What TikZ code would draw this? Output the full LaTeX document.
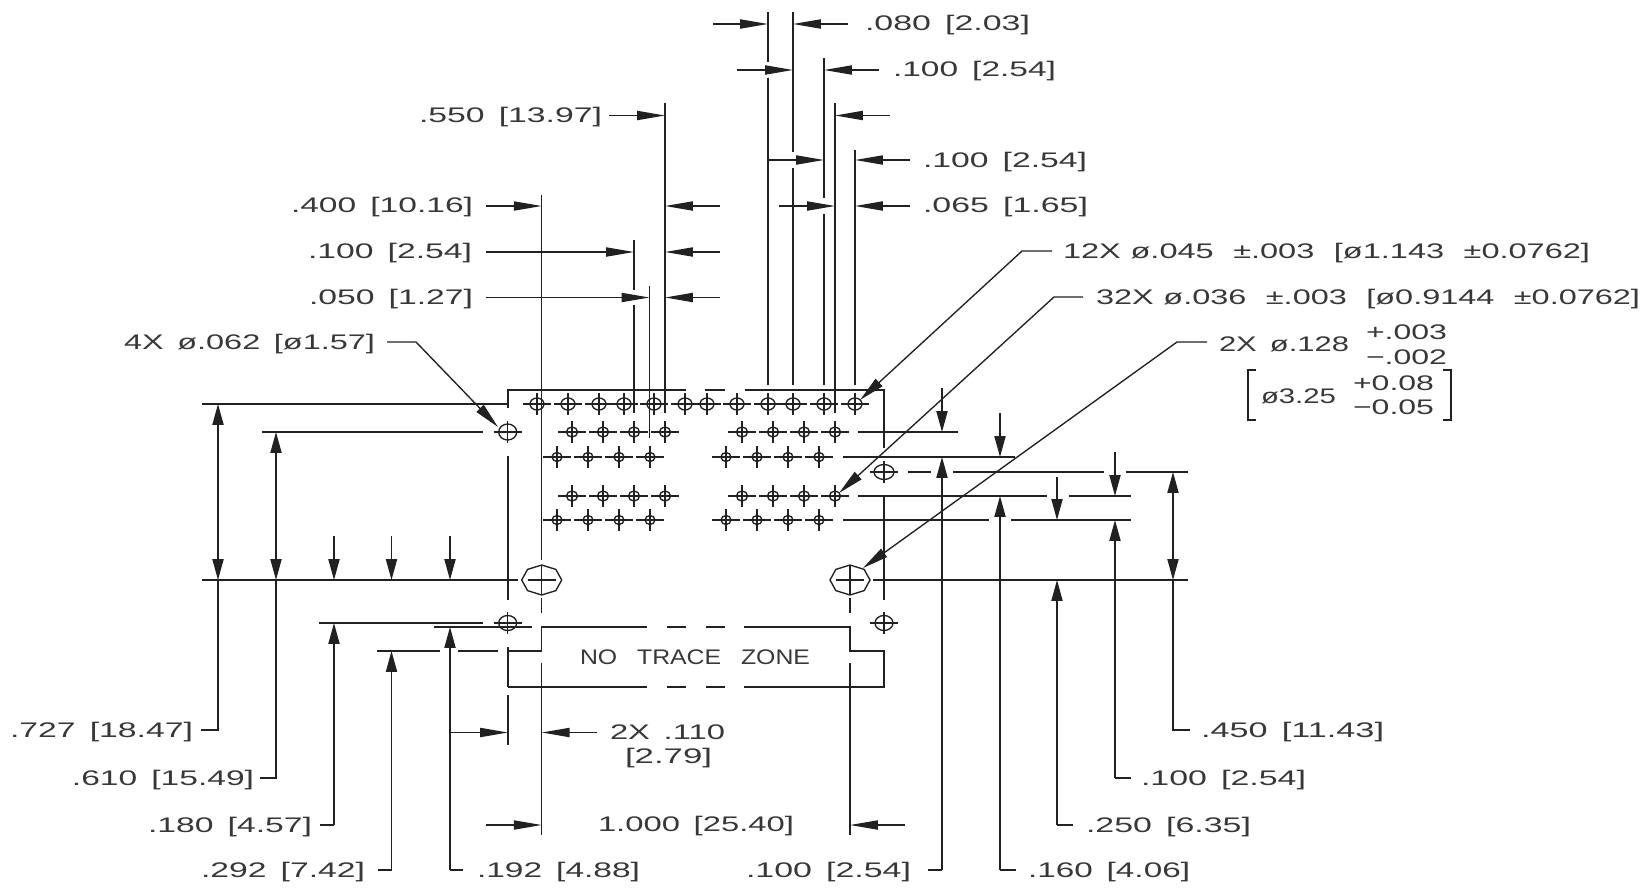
\documentclass[tikz,border=0pt]{standalone}
\usepackage{fontspec}
\usepackage{graphicx}
\setmainfont{Liberation Sans}
\usetikzlibrary{arrows.meta}
\definecolor{ink}{gray}{0.13}
\newcounter{labc}
\newcommand{\gp}{\hspace{.42em}}
\newcommand{\gs}{\hspace{.3em}}
\newcommand{\gw}{\hspace{.6em}}
\newcommand{\gt}{\hspace{.8em}}
\newcommand{\fitbox}[2]{\sbox0{#2}\pgfmathsetmacro\sfx{#1*0.501875/\the\wd0}\scalebox{\sfx}[1]{\usebox0}}
\newcommand{\lbl}[4]{\stepcounter{labc}\pgfmathsetmacro\wdt{#2-#1}\node[txt] (lab\thelabc) at (#1,#3+7.5) {\fitbox{\wdt}{#4}};}
\newcommand{\smallhole}[4]{%
  \draw[geo] (#1,#2) ellipse [x radius=#3,y radius=#4];
  \draw[geo] (#1-14,#2) -- (#1+14,#2) (#1,#2-11) -- (#1,#2+11);}
\newcommand{\bighole}[2]{%
  \draw[geo] plot[samples=9,domain=0:360] ({#1+20*cos(\x)},{#2+15*sin(\x)}) -- cycle;
  \draw[geo] (#1-14,#2) -- (#1+14,#2) (#1,#2-14) -- (#1,#2+14);}
\tikzset{
  geo/.style={draw=ink,line width=0.68pt},
  ha/.style={geo,-{Triangle[length=14pt,width=4.6pt]}},
  va/.style={geo,-{Triangle[length=10.5pt,width=5.6pt]}},
  vv/.style={geo,{Triangle[length=10.5pt,width=5.6pt]}-{Triangle[length=10.5pt,width=5.6pt]}},
  la/.style={geo,-{Triangle[length=13pt,width=5pt]}},
  txt/.style={anchor=base west,inner sep=0pt,outer sep=0pt,text=black!78,font=\fontsize{10.6}{12}\selectfont}
}
\begin{document}
\begin{tikzpicture}[x=0.5bp,y=-0.5bp]
\useasboundingbox (0,0) rectangle (1641,889);
% ---- holes
\foreach \h in {537,568,599,624,654,685,707,737,768,793,824,855} {\smallhole{\h}{404}{7}{6}}
\foreach \h in {572,603,634,665,742,773,804,835} {\smallhole{\h}{432}{5.5}{5}\smallhole{\h}{496}{5.5}{5}}
\foreach \h in {557,588,619,650,726,757,788,819} {\smallhole{\h}{457}{5}{4.5}\smallhole{\h}{520}{5}{4.5}}
\smallhole{507.7}{432}{9}{8}
\smallhole{884}{472}{10}{7.5}
\smallhole{507.7}{623}{9}{7.5}
\smallhole{884}{623}{9}{7.5}
\bighole{541.7}{580}
\bighole{850}{580}
% ---- outline at the top
\draw[geo] (508,408) -- (508,390) -- (686,390);
\draw[geo] (705,390) -- (725,390);
\draw[geo] (745,390) -- (884,390) -- (884,448);
% ---- left verticals
\draw[geo] (508,456) -- (508,600);
\draw[geo] (508,647) -- (508,687);
\draw[geo] (508,695) -- (508,745);
\draw[geo] (541.7,195) -- (541.7,560);
\draw[geo] (541.7,598) -- (541.7,613);
\draw[geo] (541.7,663) -- (541.7,835);
% ---- right verticals
\draw[geo] (884,495) -- (884,600);
\draw[geo] (850,598) -- (850,613);
\draw[geo] (850,663) -- (850,835);
% ---- no trace zone
\draw[geo] (508,651) -- (541.7,651) -- (541.7,627) -- (647,627);
\draw[geo] (667,627) -- (686,627);
\draw[geo] (706,627) -- (725,627);
\draw[geo] (744,627) -- (850,627) -- (850,651) -- (884,651) -- (884,687) -- (744,687);
\draw[geo] (725,687) -- (706,687);
\draw[geo] (686,687) -- (667,687);
\draw[geo] (647,687) -- (508,687);
\lbl{580}{810}{657}{NO\gt TRACE\gt ZONE}
% ---- top extension lines
\draw[geo] (768,12) -- (768,62);
\draw[geo] (768,78) -- (768,385);
\draw[geo] (793,12) -- (793,152);
\draw[geo] (793,168) -- (793,385);
\draw[geo] (824,58) -- (824,198);
\draw[geo] (824,214) -- (824,385);
\draw[geo] (835,103) -- (835,413);
\draw[geo] (855,150) -- (855,385);
\draw[geo] (665,103) -- (665,413);
\draw[geo] (634,240) -- (634,290);
\draw[geo] (634,305) -- (634,413);
\draw[geo] (649.5,286) -- (649.5,438);
% ---- top dimensions
\draw[ha] (713,24) -- (768,24);
\draw[ha] (848,24) -- (793,24);
\lbl{865}{1030}{23}{.080\gp[2.03]}
\draw[ha] (737,70) -- (793,70);
\draw[ha] (879,70) -- (824,70);
\lbl{893}{1056}{69}{.100\gp[2.54]}
\draw[ha] (609,115.5) -- (665,115.5);
\draw[ha] (890,115.5) -- (835,115.5);
\lbl{419}{602}{115}{.550\gp[13.97]}
\draw[ha] (768,160) -- (824,160);
\draw[ha] (910,160) -- (855,160);
\lbl{923}{1087}{160}{.100\gp[2.54]}
\draw[ha] (779,206) -- (835,206);
\draw[ha] (910,206) -- (855,206);
\lbl{923}{1088}{205}{.065\gp[1.65]}
\draw[ha] (486,206) -- (541.7,206);
\draw[ha] (720,206) -- (665,206);
\lbl{291}{473}{205}{.400\gp[10.16]}
\draw[ha] (486,252) -- (634,252);
\draw[ha] (720,252) -- (665,252);
\lbl{308}{472}{251}{.100\gp[2.54]}
\draw[ha] (486,297.5) -- (649.5,297.5);
\draw[ha] (720,297.5) -- (665,297.5);
\lbl{309}{473}{297}{.050\gp[1.27]}
% ---- leaders
\draw[la] (1052,251) -- (1022,251) -- (860,400);
\lbl{1063}{1590}{251}{12X\gs ø.045\gw ±.003\gw [ø1.143\gw ±0.0762]}
\draw[la] (1083,297) -- (1054,297) -- (839,493);
\lbl{1096}{1640}{297}{32X\gs ø.036\gw ±.003\gw [ø0.9144\gw ±0.0762]}
\draw[la] (1207,342) -- (1177,342) -- (863,568);
\lbl{1219}{1349}{344}{2X\gp ø.128}
\lbl{1366}{1447}{332}{+.003}
\lbl{1366}{1447}{357}{−.002}
\draw[geo] (1256,370) -- (1248,370) -- (1248,420) -- (1256,420);
\lbl{1261}{1336}{396}{ø3.25}
\lbl{1353}{1434}{383}{+0.08}
\lbl{1353}{1434}{407}{−0.05}
\draw[geo] (1443,370) -- (1451,370) -- (1451,420) -- (1443,420);
\draw[la] (387,342) -- (416,342) -- (498,427);
\lbl{124}{375}{342}{4X\gp ø.062\gp [ø1.57]}
% ---- left horizontals
\draw[geo] (202,404) -- (509,404);
\draw[geo] (262,432) -- (483,432);
\draw[geo] (202,580) -- (518,580);
\draw[geo] (319,623) -- (483,623);
\draw[geo] (434,627) -- (532,627);
\draw[geo] (377,651) -- (440,651);
\draw[geo] (458,651) -- (498,651);
% ---- left dimensions
\draw[vv] (218,404) -- (218,580);
\draw[geo] (218,580) -- (218,730) -- (201,730);
\lbl{10}{193}{730}{.727\gp[18.47]}
\draw[vv] (276,432) -- (276,580);
\draw[geo] (276,580) -- (276,778) -- (260,778);
\lbl{72}{254}{778}{.610\gp[15.49]}
\draw[va] (334,536) -- (334,580);
\draw[va] (334,825) -- (334,623);
\draw[geo] (334,825) -- (320,825);
\lbl{148}{312}{825}{.180\gp[4.57]}
\draw[va] (391.5,536) -- (391.5,580);
\draw[va] (391.5,870) -- (391.5,651);
\draw[geo] (391.5,870) -- (378,870);
\lbl{201}{365}{870}{.292\gp[7.42]}
\draw[va] (450,536) -- (450,580);
\draw[va] (450,870) -- (450,627);
\draw[geo] (450,870) -- (463,870);
\lbl{477}{640}{870}{.192\gp[4.88]}
% ---- bottom dimensions
\draw[ha] (451,732.5) -- (508,732.5);
\draw[ha] (597,732.5) -- (541.7,732.5);
\lbl{610}{725}{732}{2X\gp .110}
\lbl{625}{712}{756}{[2.79]}
\draw[ha] (486,825) -- (541.7,825);
\draw[ha] (905,825) -- (850,825);
\lbl{598}{794}{824}{1.000\gp[25.40]}
% ---- right horizontals
\draw[geo] (858,432) -- (958,432);
\draw[geo] (843,457) -- (1015,457);
\draw[geo] (908,472) -- (931,472);
\draw[geo] (953,472) -- (1104,472);
\draw[geo] (1126,472) -- (1188,472);
\draw[geo] (858,496) -- (1047,496);
\draw[geo] (1069,496) -- (1131,496);
\draw[geo] (843,520) -- (989,520);
\draw[geo] (1011,520) -- (1131,520);
\draw[geo] (873,580) -- (1188,580);
% ---- right dimensions
\draw[va] (942,388) -- (942,432);
\draw[va] (942,870) -- (942,457);
\draw[geo] (942,870) -- (928,870);
\lbl{746}{911}{870}{.100\gp[2.54]}
\draw[va] (1000,413) -- (1000,457);
\draw[va] (1000,870) -- (1000,496);
\draw[geo] (1000,870) -- (1016,870);
\lbl{1028}{1190}{870}{.160\gp[4.06]}
\draw[va] (1057,477) -- (1057,520);
\draw[va] (1057,825) -- (1057,580);
\draw[geo] (1057,825) -- (1073,825);
\lbl{1086}{1251}{825}{.250\gp[6.35]}
\draw[va] (1115,452) -- (1115,496);
\draw[va] (1115,778) -- (1115,520);
\draw[geo] (1115,778) -- (1131,778);
\lbl{1141}{1306}{778}{.100\gp[2.54]}
\draw[vv] (1173,472) -- (1173,580);
\draw[geo] (1173,580) -- (1173,730) -- (1190,730);
\lbl{1201}{1384}{730}{.450\gp[11.43]}
\end{tikzpicture}
\end{document}
